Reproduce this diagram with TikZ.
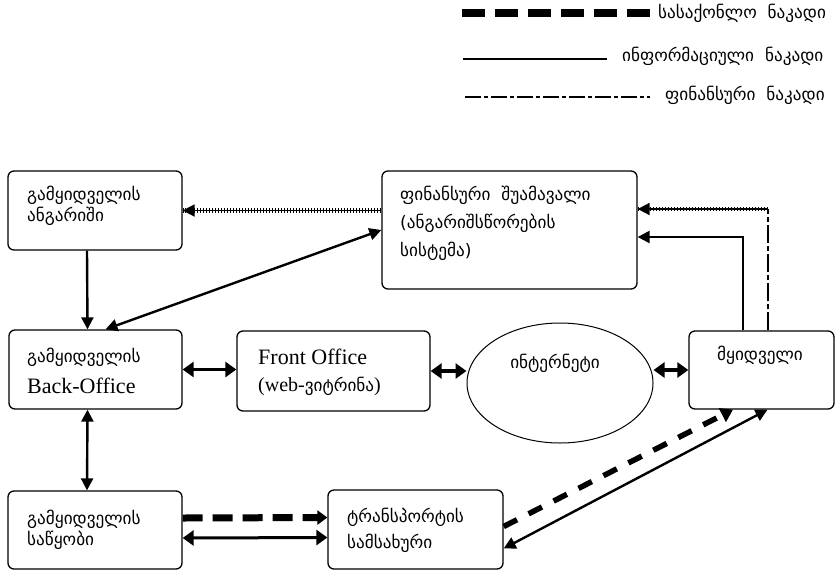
\documentclass[tikz,border=0pt]{standalone}
\usepackage{fontspec}
\setmainfont{Liberation Serif}
\newfontfamily\geo{DejaVu Sans}
\usetikzlibrary{arrows.meta,shapes.geometric}

\tikzset{
  box/.style={draw, line width=1.3pt, rounded corners=6pt, inner sep=0pt},
  cloud/.style={draw, ellipse, line width=1pt, inner sep=0pt},
  txt/.style={anchor=west, align=left, inner sep=0pt,
              font=\geo\fontsize{17.2}{21}\selectfont},
  lat/.style={font=\rmfamily\fontsize{22}{26}\selectfont},
  tip/.tip={Triangle[length=12pt,width=12pt]},
  bigtip/.tip={Triangle[length=11pt,width=15pt]},
  info/.style={line width=2.4pt},
  goods/.style={line width=7pt, dash pattern=on 20pt off 10pt},
  goodsdiag/.style={line width=5.5pt, dash pattern=on 15pt off 13pt},
  hatch/.style={line width=1.8pt,
    postaction={draw, -, line width=4.4pt, dash pattern=on 1.3pt off 1.7pt}},
  findash/.style={line width=1.6pt, dash pattern=on 18pt off 3pt on 5pt off 3pt},
}

\begin{document}
\begin{tikzpicture}[x=1pt, y=-1pt]
\useasboundingbox (0,0) rectangle (837,571);

% ---------- legend ----------
\coordinate (lg1a) at (462,13);  \coordinate (lg1b) at (652,13);
\coordinate (lg2a) at (463,59);  \coordinate (lg2b) at (607,59);
\coordinate (lg3a) at (465,97);  \coordinate (lg3b) at (650,97);
\draw[line width=8pt, dash pattern=on 23pt off 10pt] (lg1a) -- (lg1b);
\draw[line width=1.3pt] (lg2a) -- (lg2b);
\draw[line width=1.3pt, dash pattern=on 16pt off 3pt on 4pt off 3pt] (lg3a) -- (lg3b);
\node[txt] (lgt1) at (658,13) {სასაქონლო\ \ ნაკადი};
\node[txt] (lgt2) at (622,56) {ინფორმაციული\ \ ნაკადი};
\node[txt] (lgt3) at (665,95) {ფინანსური\ \ ნაკადი};

% ---------- boxes ----------
\node[box, minimum width=174, minimum height=79] (acct)  at (95,210.5) {};
\node[box, minimum width=255, minimum height=118] (fin)  at (509.5,230) {};
\node[box, minimum width=173, minimum height=79] (back)  at (95.5,369.5) {};
\node[box, minimum width=193, minimum height=80] (front) at (333.5,371) {};
\node[cloud, minimum width=186, minimum height=120] (net) at (560,383) {};
\node[box, minimum width=145, minimum height=78] (buyer) at (761.5,370) {};
\node[box, minimum width=174, minimum height=78] (wh)    at (95,530) {};
\node[box, minimum width=175, minimum height=79] (tr)    at (415.5,529.5) {};

% ---------- box texts ----------
\node[txt] (acctt) at (27,206) {გამყიდველის\\ანგარიში};
\node[txt, font=\geo\fontsize{17.2}{28}\selectfont] (fint) at (400,223)
  {ფინანსური\ \ შუამავალი\\(ანგარიშსწორების\\სისტემა)};
\node[txt] (backt1) at (27,357) {გამყიდველის};
\node[txt, lat] (backt2) at (27,386) {Back-Office};
\node[txt, lat] (frontt1) at (258,357) {Front Office};
\node[txt] (frontt2) at (258,386) {{\rmfamily\fontsize{20}{22}\selectfont(web-}ვიტრინა{\rmfamily\fontsize{20}{22}\selectfont)}};
\node[txt, anchor=center] (nett) at (555,363) {ინტერნეტი};
\node[txt, anchor=center] (buyert) at (760,355) {მყიდველი};
\node[txt] (wht) at (27,530) {გამყიდველის\\საწყობი};
\node[txt, font=\geo\fontsize{17.2}{26}\selectfont] (trt) at (347,530) {ტრანსპორტის\\სამსახური};

% ---------- connectors ----------
% seller account -> back office
\draw[info, -tip] ([xshift=-8pt]acct.south) -- ([xshift=-8pt]back.north);
% back office <-> financial intermediary
\draw[info, tip-tip] ([xshift=10pt]back.north) -- (fin.west);
% financial intermediary -> seller account
\draw[hatch, -tip] (fin.west |- acct.east) -- (acct.east);
% back office <-> front office <-> internet <-> buyer
\draw[info, line width=3.2pt, bigtip-bigtip] (back.east) -- (back.east -| front.west);
\draw[info, line width=3.2pt, bigtip-bigtip] (front.east) -- (front.east -| net.west);
\draw[info, line width=3.2pt, bigtip-bigtip] (buyer.west -| net.east) -- (buyer.west);
% back office <-> warehouse
\draw[info, tip-tip] ([xshift=-8pt]back.south) -- ([xshift=-8pt]wh.north);
% warehouse -> transport (goods) and warehouse <-> transport (info)
\draw[goods, -{Triangle[length=10pt,width=14pt]}] ([yshift=12pt]wh.east) -- ([yshift=12pt]tr.west);
\draw[info, line width=3pt, bigtip-bigtip] ([yshift=-8pt]wh.east) -- ([yshift=-8pt]tr.west);
% transport -> buyer (goods) and buyer <-> transport (info)
\draw[goodsdiag, -{Triangle[length=12pt,width=15pt]}] ([yshift=3pt]tr.east) -- ([xshift=-28.5pt]buyer.south);
\draw[info, tip-tip] ([xshift=6pt]buyer.south) -- ([yshift=-19pt]tr.east);
% buyer -> financial intermediary (info)
\draw[info, -tip] ([xshift=-18.5pt]buyer.north) |- ([yshift=-7pt]fin.east);
% buyer -> financial intermediary (money)
\coordinate (fincorner) at (768,209);
\draw[findash] ([xshift=6.5pt]buyer.north) -- (fincorner);
\draw[hatch, -tip] (fincorner) -- (fincorner -| fin.east);
\end{tikzpicture}
\end{document}
